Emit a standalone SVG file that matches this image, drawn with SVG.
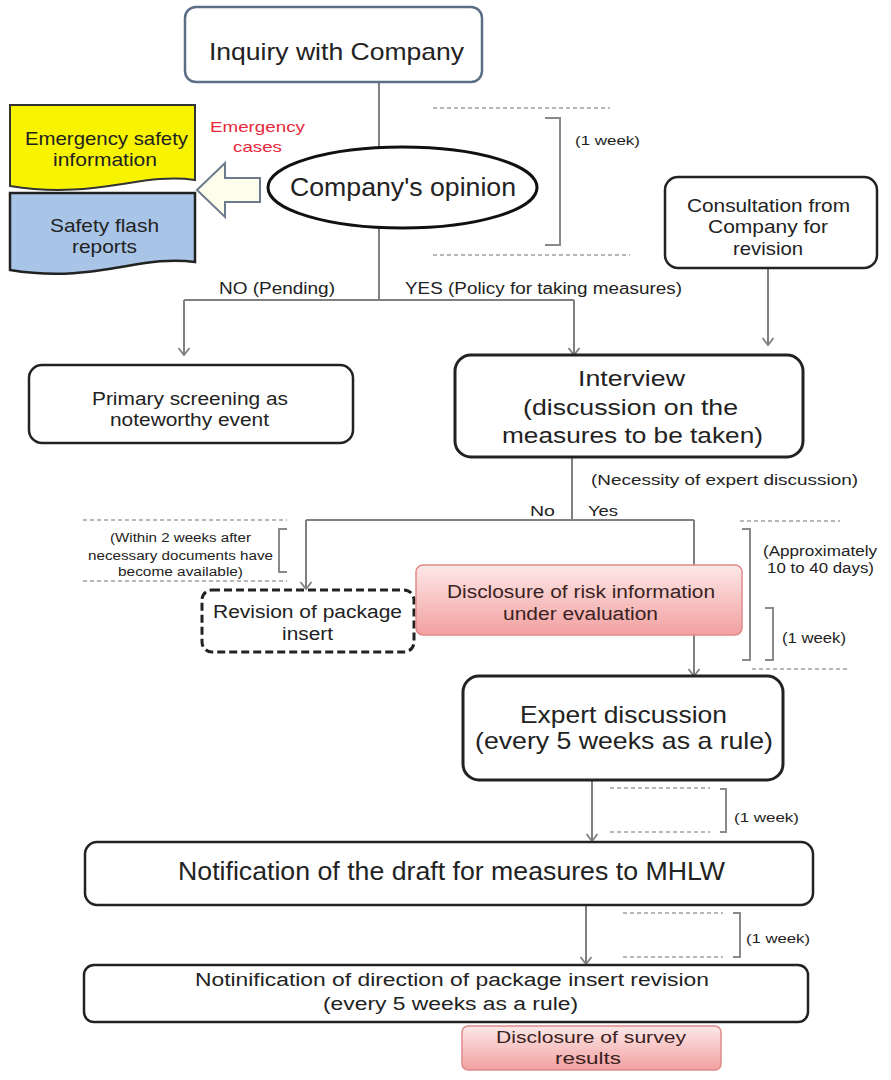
<svg xmlns="http://www.w3.org/2000/svg" width="891" height="1080" viewBox="0 0 891 1080">
<style>
text{font-family:"Liberation Sans",Arial,sans-serif;fill:#222;text-anchor:middle}
.box{fill:#fff;stroke:#222;stroke-width:2.5}
.thick{fill:#fff;stroke:#222;stroke-width:3}
.conn{fill:none;stroke:#808080;stroke-width:2}
.dash{fill:none;stroke:#a0a0a0;stroke-width:1.5;stroke-dasharray:4 3}
.brk{fill:none;stroke:#8a8a8a;stroke-width:2}
.pink{fill:url(#pg);stroke:#e08a8a;stroke-width:1.5}
.note{font-size:13px;text-anchor:start}
</style>
<defs>
<linearGradient id="pg" x1="0" y1="0" x2="0" y2="1">
<stop offset="0" stop-color="#fde8e8"/>
<stop offset="1" stop-color="#f2a0a0"/>
</linearGradient>
<marker id="ah" markerWidth="14" markerHeight="14" refX="12" refY="7" orient="auto" markerUnits="userSpaceOnUse">
<path d="M5,1.5 L12,7 L5,12.5" fill="none" stroke="#808080" stroke-width="1.8"/>
</marker>
</defs>

<g id="connectors">
<line class="conn" x1="379" y1="82" x2="379" y2="300"/>
<polyline class="conn" points="184,300 574,300"/>
<line class="conn" x1="184" y1="300" x2="184" y2="355" marker-end="url(#ah)"/>
<line class="conn" x1="574" y1="300" x2="574" y2="355" marker-end="url(#ah)"/>
<line class="conn" x1="768" y1="268" x2="768" y2="345" marker-end="url(#ah)"/>
<line class="conn" x1="572" y1="457" x2="572" y2="520"/>
<polyline class="conn" points="306,520 694,520"/>
<line class="conn" x1="306" y1="520" x2="306" y2="589" marker-end="url(#ah)"/>
<line class="conn" x1="694" y1="520" x2="694" y2="676" marker-end="url(#ah)"/>
<line class="conn" x1="592" y1="780" x2="592" y2="841" marker-end="url(#ah)"/>
<line class="conn" x1="586" y1="905" x2="586" y2="964" marker-end="url(#ah)"/>
</g>

<g id="annotations">
<line class="dash" x1="433" y1="108" x2="610" y2="108"/>
<line class="dash" x1="433" y1="255" x2="630" y2="255"/>
<path class="brk" d="M545,118 H560 V245 H545"/>
<text class="note" x="575" y="145" textLength="65" lengthAdjust="spacingAndGlyphs">(1 week)</text>

<line class="dash" x1="83" y1="520" x2="287" y2="520"/>
<line class="dash" x1="83" y1="581" x2="287" y2="581"/>
<path class="brk" d="M287,529 H279 V572 H287"/>
<text style="font-size:12.5px" x="180.5" y="542" textLength="141" lengthAdjust="spacingAndGlyphs">(Within 2 weeks after</text>
<text style="font-size:12.5px" x="180.5" y="560" textLength="185" lengthAdjust="spacingAndGlyphs">necessary documents have</text>
<text style="font-size:12.5px" x="180.5" y="576" textLength="125" lengthAdjust="spacingAndGlyphs">become available)</text>

<line class="dash" x1="740" y1="521" x2="840" y2="521"/>
<line class="dash" x1="752" y1="669" x2="848" y2="669"/>
<path class="brk" d="M742,529 H750 V660 H742"/>
<path class="brk" d="M765,608 H773 V660 H765"/>
<text class="note" style="font-size:14px" x="763" y="556" textLength="114" lengthAdjust="spacingAndGlyphs">(Approximately</text>
<text class="note" style="font-size:14px" x="767" y="573" textLength="107" lengthAdjust="spacingAndGlyphs">10 to 40 days)</text>
<text class="note" style="font-size:14px" x="782" y="643" textLength="64" lengthAdjust="spacingAndGlyphs">(1 week)</text>

<line class="dash" x1="610" y1="788" x2="710" y2="788"/>
<line class="dash" x1="610" y1="832" x2="710" y2="832"/>
<path class="brk" d="M720,789 H726 V832 H720"/>
<text class="note" x="734" y="822" textLength="65" lengthAdjust="spacingAndGlyphs">(1 week)</text>

<line class="dash" x1="623" y1="913" x2="723" y2="913"/>
<line class="dash" x1="623" y1="957" x2="723" y2="957"/>
<path class="brk" d="M733,913 H740 V957 H733"/>
<text class="note" x="746" y="943" textLength="64" lengthAdjust="spacingAndGlyphs">(1 week)</text>

<text style="font-size:16px" x="277" y="294" textLength="116" lengthAdjust="spacingAndGlyphs">NO (Pending)</text>
<text style="font-size:16px" x="543.5" y="294" textLength="277" lengthAdjust="spacingAndGlyphs">YES (Policy for taking measures)</text>
<text style="font-size:15px" x="724.5" y="485" textLength="267" lengthAdjust="spacingAndGlyphs">(Necessity of expert discussion)</text>
<text style="font-size:15px" x="542.5" y="516" textLength="25" lengthAdjust="spacingAndGlyphs">No</text>
<text style="font-size:15px" x="603" y="516" textLength="30" lengthAdjust="spacingAndGlyphs">Yes</text>
<text style="font-size:14.5px;fill:#e8283c" x="257.5" y="132" textLength="95" lengthAdjust="spacingAndGlyphs">Emergency</text>
<text style="font-size:14.5px;fill:#e8283c" x="257.5" y="152" textLength="49" lengthAdjust="spacingAndGlyphs">cases</text>
</g>

<g id="inquiry">
<rect x="185" y="7" width="297" height="75" rx="11" fill="#fff" stroke="#5b6e86" stroke-width="2.5"/>
<text style="font-size:24px" x="336.5" y="60" textLength="255" lengthAdjust="spacingAndGlyphs">Inquiry with Company</text>
</g>

<g id="opinion">
<ellipse cx="402.5" cy="187.5" rx="134.5" ry="40.5" fill="#fff" stroke="#111" stroke-width="3"/>
<text style="font-size:25px" x="403" y="196" textLength="226" lengthAdjust="spacingAndGlyphs">Company's opinion</text>
</g>

<g id="emergency-info">
<path d="M10,105 H195 V180 C140,172 95,200 10,186 Z" fill="#f8f400" stroke="#333" stroke-width="2"/>
<text style="font-size:18.5px" x="106.5" y="145" textLength="163" lengthAdjust="spacingAndGlyphs">Emergency safety</text>
<text style="font-size:18.5px" x="105" y="166" textLength="104" lengthAdjust="spacingAndGlyphs">information</text>
</g>

<g id="flash-reports">
<path d="M10,193 H195 V262 C140,254 95,284 10,270 Z" fill="#a8c5e8" stroke="#222" stroke-width="2.5"/>
<text style="font-size:19px" x="104.5" y="232" textLength="109" lengthAdjust="spacingAndGlyphs">Safety flash</text>
<text style="font-size:19px" x="104.5" y="253" textLength="65" lengthAdjust="spacingAndGlyphs">reports</text>
</g>

<g id="emergency-arrow">
<polygon points="197,190 225,163 225,178 260,178 260,202 225,202 225,217" fill="#fdfdec" stroke="#6b7b8c" stroke-width="2"/>
</g>

<g id="consultation">
<rect class="box" x="665" y="177" width="212" height="91" rx="13"/>
<text style="font-size:19px" x="768.5" y="212" textLength="163" lengthAdjust="spacingAndGlyphs">Consultation from</text>
<text style="font-size:19px" x="768" y="233" textLength="120" lengthAdjust="spacingAndGlyphs">Company for</text>
<text style="font-size:19px" x="768" y="255" textLength="70" lengthAdjust="spacingAndGlyphs">revision</text>
</g>

<g id="primary-screening">
<rect class="box" x="29" y="365" width="324" height="78" rx="13"/>
<text style="font-size:17.5px" x="190" y="405" textLength="196" lengthAdjust="spacingAndGlyphs">Primary screening as</text>
<text style="font-size:17.5px" x="189.5" y="426" textLength="159" lengthAdjust="spacingAndGlyphs">noteworthy event</text>
</g>

<g id="interview">
<rect class="thick" x="455" y="355" width="348" height="102" rx="16"/>
<text style="font-size:22px" x="631.5" y="386" textLength="107" lengthAdjust="spacingAndGlyphs">Interview</text>
<text style="font-size:22px" x="630.5" y="415" textLength="215" lengthAdjust="spacingAndGlyphs">(discussion on the</text>
<text style="font-size:22px" x="632.5" y="443" textLength="261" lengthAdjust="spacingAndGlyphs">measures to be taken)</text>
</g>

<g id="revision">
<rect x="202" y="590" width="212" height="62" rx="10" fill="#fff" stroke="#222" stroke-width="3" stroke-dasharray="8 4"/>
<text style="font-size:18px" x="307.5" y="618" textLength="189" lengthAdjust="spacingAndGlyphs">Revision of package</text>
<text style="font-size:18px" x="307.5" y="640" textLength="51" lengthAdjust="spacingAndGlyphs">insert</text>
</g>

<g id="risk-disclosure">
<rect class="pink" x="416" y="565" width="326" height="70" rx="7"/>
<text style="font-size:18px;fill:#3a2222" x="581" y="598" textLength="268" lengthAdjust="spacingAndGlyphs">Disclosure of risk information</text>
<text style="font-size:18px;fill:#3a2222" x="580.5" y="620" textLength="155" lengthAdjust="spacingAndGlyphs">under evaluation</text>
</g>

<g id="expert">
<rect class="thick" x="463" y="676" width="320" height="104" rx="16"/>
<text style="font-size:24px" x="623.5" y="723" textLength="207" lengthAdjust="spacingAndGlyphs">Expert discussion</text>
<text style="font-size:24px" x="624" y="749" textLength="298" lengthAdjust="spacingAndGlyphs">(every 5 weeks as a rule)</text>
</g>

<g id="notification">
<rect class="box" x="85" y="842" width="728" height="63" rx="12"/>
<text style="font-size:25px" x="451.5" y="880" textLength="547" lengthAdjust="spacingAndGlyphs">Notification of the draft for measures to MHLW</text>
</g>

<g id="direction">
<rect class="box" x="84" y="965" width="724" height="57" rx="10"/>
<text style="font-size:18px" x="452" y="986" textLength="514" lengthAdjust="spacingAndGlyphs">Notinification of direction of package insert revision</text>
<text style="font-size:18px" x="450.5" y="1010" textLength="255" lengthAdjust="spacingAndGlyphs">(every 5 weeks as a rule)</text>
</g>

<g id="survey-disclosure">
<rect class="pink" x="462" y="1026" width="259" height="44" rx="6"/>
<text style="font-size:17px;fill:#3a2222" x="591" y="1043" textLength="190" lengthAdjust="spacingAndGlyphs">Disclosure of survey</text>
<text style="font-size:17px;fill:#3a2222" x="588" y="1064" textLength="66" lengthAdjust="spacingAndGlyphs">results</text>
</g>
</svg>
